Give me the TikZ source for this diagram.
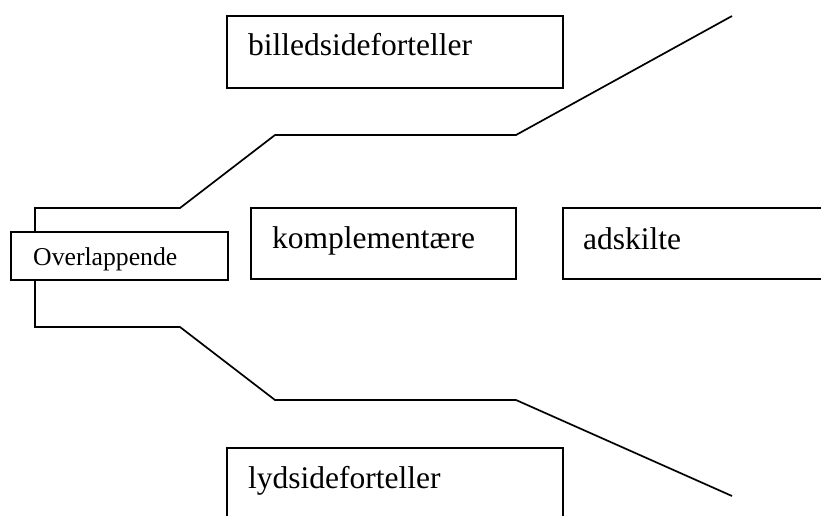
\documentclass[tikz,border=0pt]{standalone}
\usepackage{fontspec}
\setmainfont{Liberation Serif}
\begin{document}
\begin{tikzpicture}[x=1pt,y=-1pt,
  boxline/.style={line width=1.9pt},
  bigtext/.style={anchor=base west,inner sep=0pt,font=\fontsize{31.5}{36}\selectfont},
  smalltext/.style={anchor=base west,inner sep=0pt,font=\fontsize{25.7}{30}\selectfont},
  branch/.style={line width=1.7pt,line join=miter}]
\useasboundingbox (0,0) rectangle (821,515);
\begin{scope}
\clip (0,0) rectangle (821,515);
% boxes
\draw[boxline] (227,16) rectangle (563,88);
\draw[boxline] (251,208) rectangle (516,279);
\draw[boxline] (563,208) rectangle (830,279);
\draw[boxline] (227,448) rectangle (563,530);
% branch lines
\coordinate (u0) at (35,232);
\coordinate (u1) at (35,208);
\coordinate (u2) at (180,208);
\coordinate (u3) at (275,135);
\coordinate (u4) at (516,135);
\coordinate (u5) at (732,16);
\coordinate (l0) at (35,280);
\coordinate (l1) at (35,327);
\coordinate (l2) at (180,327);
\coordinate (l3) at (275,400);
\coordinate (l4) at (516,400);
\coordinate (l5) at (732,496);
\draw[branch] (u0) -- (u1) -- (u2) -- (u3) -- (u4) -- (u5);
\draw[branch] (l0) -- (l1) -- (l2) -- (l3) -- (l4) -- (l5);
\draw[boxline,fill=white] (11,232) rectangle (228,280);
\end{scope}
% texts
\node[bigtext] (billed) at (248,55) {billedsideforteller};
\node[bigtext] (kompl) at (272,248) {komplementære};
\node[bigtext] (adsk) at (583,249) {adskilte};
\node[bigtext] (lyd) at (248,488) {lydsideforteller};
\node[smalltext] (over) at (33,265) {Overlappende};
\end{tikzpicture}
\end{document}
